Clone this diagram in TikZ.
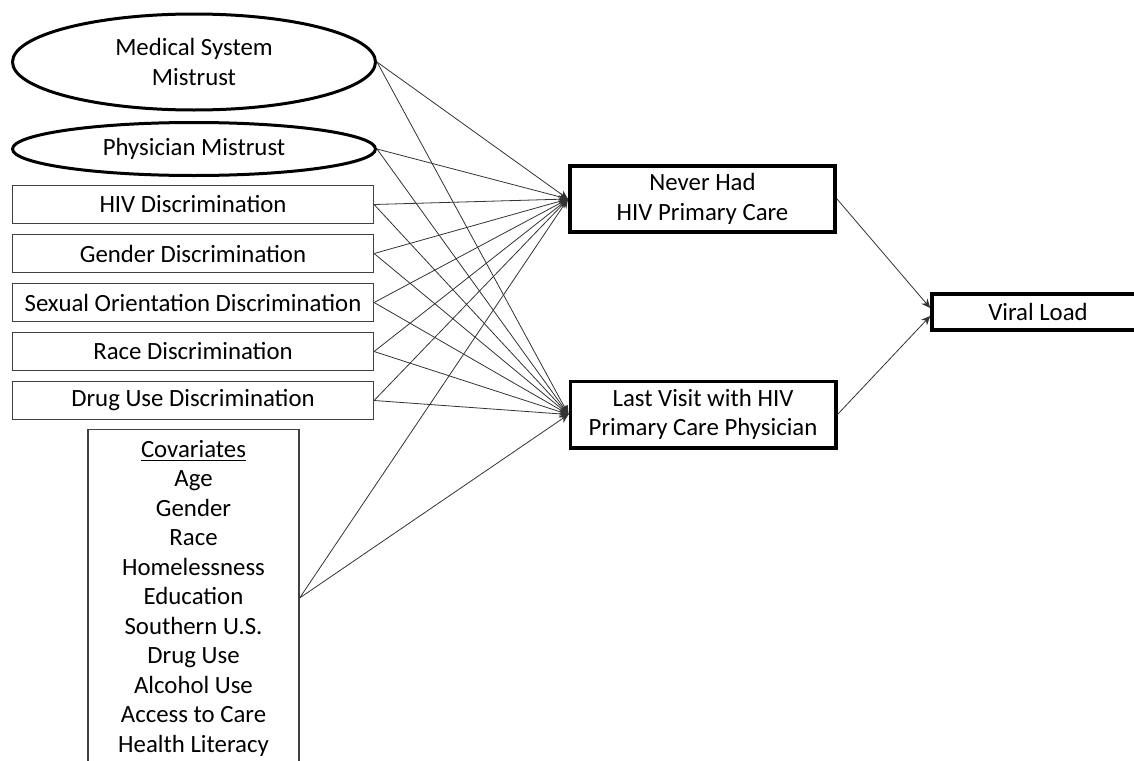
\documentclass[tikz,border=0pt]{standalone}
\usepackage{fontspec}
\setmainfont{Carlito}
\usetikzlibrary{shapes.geometric, arrows.meta}
\tikzstyle{latent} = [ellipse, draw=black, line width=1.5pt, minimum width=181.5pt, inner sep=0pt, align=center]
\tikzstyle{observed} = [rectangle, draw=black!75, line width=0.6pt, minimum width=180.5pt, minimum height=19pt, inner sep=0pt]
\tikzstyle{covbox} = [rectangle, draw=black!75, line width=0.6pt, minimum width=105.5pt, minimum height=168.5pt, inner sep=0pt, align=center]
\tikzstyle{outcome} = [rectangle, draw=black, line width=1.8pt, minimum width=132.7pt, minimum height=33.2pt, inner sep=0pt, align=center]
\tikzstyle{arrow} = [line width=0.4pt, draw=black!80, -{Stealth[length=4.5pt,width=4pt]}]

\begin{document}
\begin{tikzpicture}[x=0.5pt, y=-0.5pt, node distance=24.5pt, font=\fontsize{12.4}{14.75}\selectfont]
\path[use as bounding box, clip] (0,0) rectangle (1134,760);

\node (med) [latent, minimum height=48pt] at (194,62) {Medical System\\Mistrust};
\node (phys) [latent, minimum height=26.5pt] at (194,149) {Physician Mistrust};
\node (hiv) [observed] at (193,204.5) {HIV Discrimination};
\node (gen) [observed, below of=hiv] {Gender Discrimination};
\node (sex) [observed, below of=gen] {Sexual Orientation Discrimination};
\node (race) [observed, below of=sex] {Race Discrimination};
\node (drug) [observed, below of=race] {Drug Use Discrimination};
\node (cov) [covbox] at (193.5,598) {\underline{Covariates}\\Age\\Gender\\Race\\Homelessness\\Education\\Southern U.S.\\Drug Use\\Alcohol Use\\Access to Care\\Health Literacy};

\node (never) [outcome] at (702.5,199) {Never Had\\HIV Primary Care};
\node (last) [outcome] at (703,414.5) {Last Visit with HIV\\Primary Care Physician};
\node (viral) [outcome, minimum width=106pt, minimum height=18.2pt] at (1038,312) {Viral Load};

\draw [arrow] (med.east) -- (never.west);
\draw [arrow] (phys.east) -- (never.west);
\draw [arrow] (hiv.east) -- (never.west);
\draw [arrow] (gen.east) -- (never.west);
\draw [arrow] (sex.east) -- (never.west);
\draw [arrow] (race.east) -- (never.west);
\draw [arrow] (drug.east) -- (never.west);
\draw [arrow] (cov.east) -- (never.west);

\draw [arrow] (med.east) -- (last.west);
\draw [arrow] (phys.east) -- (last.west);
\draw [arrow] (hiv.east) -- (last.west);
\draw [arrow] (gen.east) -- (last.west);
\draw [arrow] (sex.east) -- (last.west);
\draw [arrow] (race.east) -- (last.west);
\draw [arrow] (drug.east) -- (last.west);
\draw [arrow] (cov.east) -- (last.west);

\draw [arrow] (never.east) -- ([yshift=2pt]viral.west);
\draw [arrow] (last.east) -- ([yshift=-2pt]viral.west);

\end{tikzpicture}
\end{document}
